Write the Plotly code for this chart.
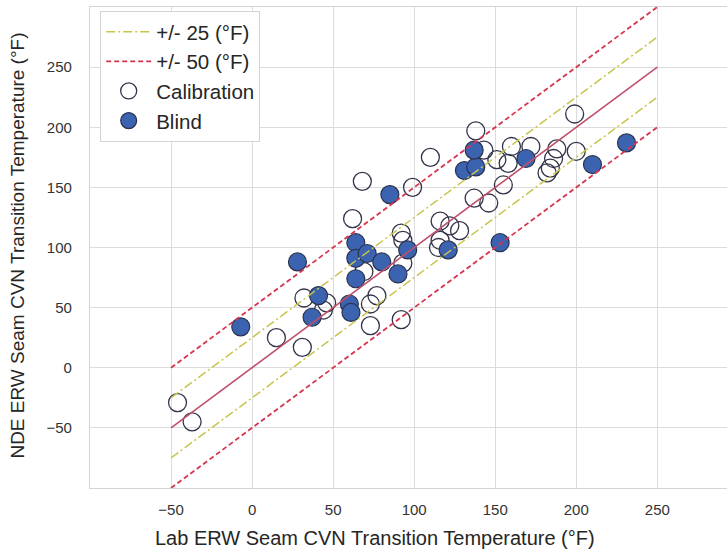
import plotly.graph_objects as go

# Calibration (open markers)
cal_x = [-46, -37, 15, 31, 32, 46, 44, 73, 68, 62, 138, 143, 110, 99, 137, 146, 155,
         116, 122, 128, 116, 115, 92, 93, 93, 92, 77, 73, 69, 199, 160, 172, 151, 158,
         188, 186, 184, 182, 200]
cal_y = [-29, -45, 25, 17, 58, 54, 48, 35, 155, 124, 197, 181, 175, 150, 141, 137, 152,
         122, 118, 114, 106, 100, 112, 106, 87, 40, 60, 53, 80, 211, 184, 184, 173, 170,
         182, 174, 166, 162, 180]

# Blind (filled markers)
blind_x = [-7, 28, 37, 41, 60, 61, 64, 64, 71, 64, 80, 90, 96, 85, 121, 131, 138, 137,
           169, 153, 210, 231]
blind_y = [34, 88, 42, 60, 53, 46, 104, 91, 95, 74, 88, 78, 98, 144, 98, 164, 167, 181,
           174, 104, 169, 187]

# Reference lines (x extent and offsets)
line_x = [-50, 250]
band25 = 25
band50 = 50

fig = go.Figure()

fig.add_trace(go.Scatter(
    x=cal_x, y=cal_y, mode="markers", name="Calibration", legendrank=3,
    marker=dict(size=18, color="rgba(0,0,0,0)",
                line=dict(color="#33334a", width=1.3)),
))
fig.add_trace(go.Scatter(
    x=blind_x, y=blind_y, mode="markers", name="Blind", legendrank=4,
    marker=dict(size=18, color="#3b63b0",
                line=dict(color="#2a3350", width=1.2)),
))

# identity line
fig.add_trace(go.Scatter(
    x=line_x, y=line_x, mode="lines", showlegend=False,
    line=dict(color="#c0506a", width=1.6),
))
# +/- 25
x25 = line_x + [None] + line_x
y25 = [v + band25 for v in line_x] + [None] + [v - band25 for v in line_x]
fig.add_trace(go.Scatter(
    x=x25, y=y25, mode="lines", name="+/- 25 (°F)", legendrank=1,
    line=dict(color="#c8c44e", width=1.5, dash="9px,3px,2px,3px"),
))
# +/- 50
y50 = [v + band50 for v in line_x] + [None] + [v - band50 for v in line_x]
fig.add_trace(go.Scatter(
    x=x25, y=y50, mode="lines", name="+/- 50 (°F)", legendrank=2,
    line=dict(color="#d8344f", width=1.8, dash="5px,3px"),
))

axis_common = dict(
    showgrid=True, gridcolor="#dcdcdc", gridwidth=1.3,
    zeroline=False, showline=True, linecolor="#d4d4d4", linewidth=1.3, mirror=True,
    ticks="outside", tickcolor="rgba(0,0,0,0)",
    tickfont=dict(family="Liberation Sans, Arial, sans-serif", size=15, color="#333333"),
)

fig.update_xaxes(range=[-100, 293], tickvals=[-50, 0, 50, 100, 150, 200, 250],
                 ticklen=8, **axis_common)
fig.update_yaxes(range=[-100, 300], tickvals=[-50, 0, 50, 100, 150, 200, 250],
                 ticklen=14, **axis_common)

fig.update_layout(
    width=727, height=554,
    margin=dict(l=90, r=0, t=7, b=66),
    plot_bgcolor="white", paper_bgcolor="white",
    font=dict(family="Liberation Sans, Arial, sans-serif", color="#262626"),
    legend=dict(
        x=0.016, y=0.992, xanchor="left", yanchor="top",
        bgcolor="white", bordercolor="#d4d4d4", borderwidth=1,
        font=dict(size=20.5, color="#262626"),
        itemwidth=45, tracegroupgap=4,
    ),
    annotations=[
        dict(text="Lab ERW Seam CVN Transition Temperature (°F)",
             xref="paper", yref="paper", x=0.447, y=-0.104,
             xanchor="center", yanchor="middle", showarrow=False,
             font=dict(size=20, color="#262626")),
        dict(text="NDE ERW Seam CVN Transition Temperature (°F)",
             xref="paper", yref="paper", x=-0.113, y=0.504, textangle=-90,
             xanchor="center", yanchor="middle", showarrow=False,
             font=dict(size=19, color="#262626")),
    ],
)

fig.write_html("out.html")
